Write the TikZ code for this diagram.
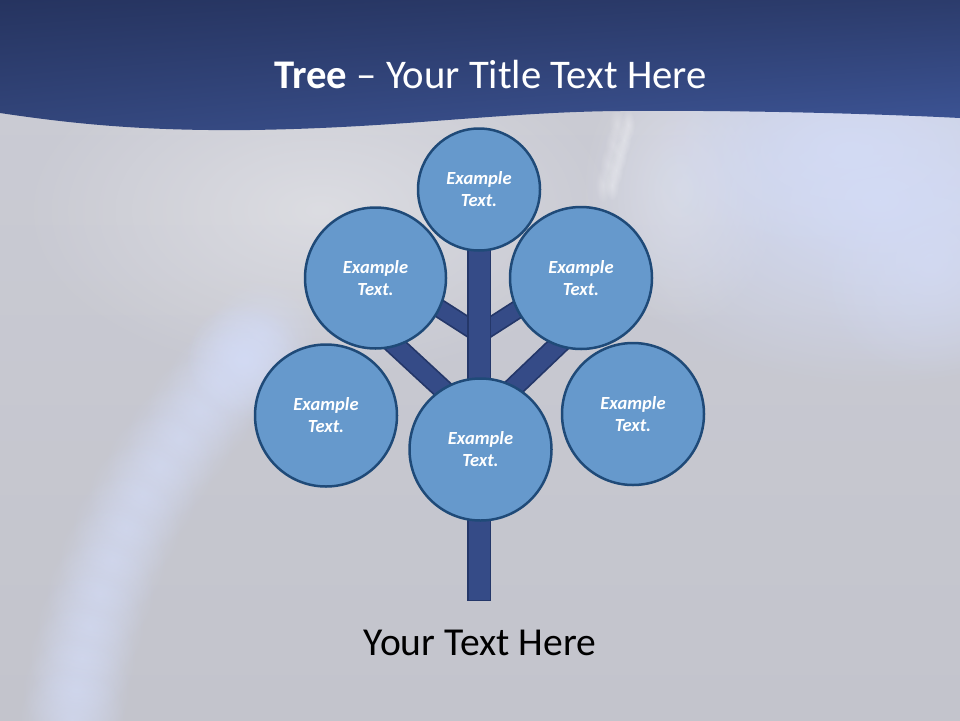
\documentclass[tikz,border=0pt]{standalone}
\usepackage{fontspec}
\setmainfont{Carlito}
\usetikzlibrary{fadings,calc,shadings}
\definecolor{circfill}{HTML}{6699CC}
\definecolor{circline}{HTML}{1F4A78}
\definecolor{trunkfill}{HTML}{354B87}
\definecolor{trunkline}{HTML}{243769}
\definecolor{bgA}{HTML}{CBCCD5}
\definecolor{bgB}{HTML}{C3C4CC}
\definecolor{glowblue}{HTML}{D3DBF5}
\definecolor{hdTL}{HTML}{263460}
\definecolor{hdTR}{HTML}{2C3C6C}
\definecolor{hdBL}{HTML}{33467C}
\definecolor{hdBR}{HTML}{3D5597}
\tikzfading[name=softball, inner color=transparent!0, outer color=transparent!100]
\tikzset{
  bubble/.style={circle, draw=circline, line width=2.5pt, fill=circfill,
    text=white, align=center, inner sep=0pt,
    font=\fontsize{18.5}{22}\selectfont\bfseries\itshape},
  bigbubble/.style={bubble, minimum size=142pt},
  smallbubble/.style={bubble, minimum size=122pt},
  branchout/.style={draw=trunkline, line width=21pt},
  branchin/.style={draw=trunkfill, line width=17.5pt},
  twigout/.style={draw=trunkline, line width=19pt},
  twigin/.style={draw=trunkfill, line width=15.5pt},
  trunkbox/.style={draw=trunkline, fill=trunkfill, line width=1.8pt},
  glow/.style={fill=glowblue, path fading=softball},
}
\begin{document}
\begin{tikzpicture}[x=1pt,y=-1pt]
\useasboundingbox (0,0) rectangle (960,720);
% background
\shade[top color=bgA, bottom color=bgB] (0,0) rectangle (960,720);
\fill[white, opacity=0.35, path fading=softball] (320,210) ellipse [x radius=300, y radius=170];
\fill[white, opacity=0.3, path fading=softball] (680,190) ellipse [x radius=100, y radius=140];
\fill[glow, opacity=1] (880,200) ellipse [x radius=300, y radius=190];
\fill[glow, opacity=0.9] (850,150) ellipse [x radius=200, y radius=110];
\fill[glow, opacity=0.7] (930,260) ellipse [x radius=120, y radius=120];
\foreach \px/\py in {262/334,240/358,220/384,200/410,180/438,160/466,142/496,126/528,112/560,100/593,90/626,82/658,76/690,72/720}
  \fill[glow, opacity=0.6] (\px,\py) circle [radius=55];
\fill[glow, opacity=0.8] (245,360) circle [radius=60];
\foreach \px/\py in {628/125,624/140,620/155,616/170,612/185}
  \fill[white, opacity=0.35, path fading=softball] (\px,\py) ellipse [x radius=7, y radius=16];
\foreach \px/\py in {617/125,613/145,608/165,603/185}
  \fill[white, opacity=0.25, path fading=softball] (\px,\py) ellipse [x radius=8, y radius=18];
% header
\shade[upper left=hdTL, upper right=hdTR, lower left=hdBL, lower right=hdBR]
  (0,0) -- (960,0) -- (960,118)
  .. controls (880,114) and (750,110) .. (620,111)
  .. controls (500,112) and (400,128) .. (250,130)
  .. controls (150,131) and (80,125) .. (0,113) -- cycle;
\node[anchor=base, text=white, font=\fontsize{40.7}{48}\selectfont] (title) at (490.5,88)
  {\textbf{Tree} – Your Title Text Here};
% coordinates
\coordinate (root) at (479.25,600.5);
\coordinate (fork) at (479.25,334);
\coordinate (twigL) at (420,296);
\coordinate (twigR) at (538.5,296);
\coordinate (brLa) at (381.9,333);
\coordinate (brLb) at (459,404.3);
\coordinate (brRa) at (574,329.8);
\coordinate (brRb) at (498.4,402);
% branches
\draw[branchout] (brLa) -- (brLb);
\draw[branchin] (brLa) -- (brLb);
\draw[branchout] (brRa) -- (brRb);
\draw[branchin] (brRa) -- (brRb);
\draw[twigout] (fork) -- (twigL);
\draw[twigin] (fork) -- (twigL);
\draw[twigout] (fork) -- (twigR);
\draw[twigin] (fork) -- (twigR);
% trunk
\draw[trunkbox] ($(root)+(-11.25,0)$) rectangle (490.5,245);
% circles
\node[smallbubble] (top) at (479,189.5) {Example\\Text.};
\node[bigbubble, minimum size=141pt] (ul) at (375.5,278) {Example\\Text.};
\node[bigbubble] (ur) at (581,278) {Example\\Text.};
\node[bigbubble] (ll) at (326,415.5) {Example\\Text.};
\node[bigbubble] (lr) at (633,414) {Example\\Text.};
\node[bigbubble] (mid) at (480.5,449.5) {Example\\Text.};
% caption
\node[anchor=base, text=black, font=\fontsize{39.6}{46}\selectfont] (caption) at (480,655.7) {Your Text Here};
\end{tikzpicture}
\end{document}
